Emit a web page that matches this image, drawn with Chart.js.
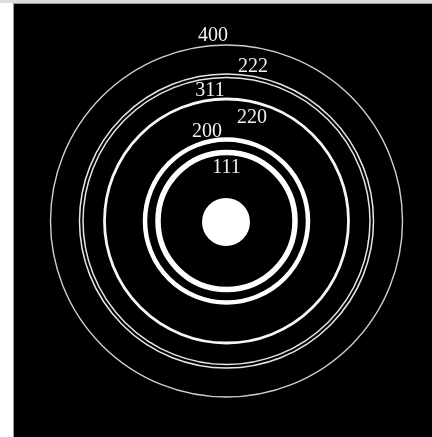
<!DOCTYPE html>
<html>
<head>
<meta charset="utf-8">
<script src="https://cdn.jsdelivr.net/npm/chart.js@4.4.1/dist/chart.umd.min.js"></script>
<style>
  html, body { margin: 0; padding: 0; background: #ffffff; }
  body { width: 432px; height: 437px; position: relative; overflow: hidden; }
  #topband { position: absolute; left: 0; top: 0; width: 432px; height: 3px; background: #dcdcdc; }
  #frame { position: absolute; left: 13px; top: 3px; width: 419px; height: 434px;
           border-left: 1px solid #9a9a9a; border-top: 1px solid #9a9a9a; box-sizing: border-box; background: #000; }
  canvas { display: block; }
</style>
</head>
<body>
<div id="topband"></div>
<div id="frame"><canvas id="c" width="418" height="433"></canvas></div>
<script>
// Miller indices of the diffraction rings, innermost first
const ringLabels = ['111', '200', '220', '311', '222', '400'];
// Ring radii (camera units, same units as the axes)
const ringRadius = [68.5, 81.5, 122, 143.5, 147, 176];
// Where each index label sits (axis units, origin at the direct beam)
const labelX = [0, -19.5, 25.5, -16.5, 26.5, -13.5];
const labelY = [54, 90, 104, 131, 155, 186];
// Transmitted (direct) beam spot
const beamSpot = [{ x: -0.5, y: -1 }];

// Ring appearance, innermost first
const ringStyle = [
  { color: '#ffffff', width: 5.5 },
  { color: '#ffffff', width: 4.5 },
  { color: '#f6f6f6', width: 2.8 },
  { color: '#e6e6e6', width: 1.5 },
  { color: '#e6e6e6', width: 1.5 },
  { color: '#cfcfcf', width: 1.4 }
];

const ringPoints = ringRadius.map(r => ({ x: 0, y: 0, r: r }));
const labelPoints = ringLabels.map((t, i) => ({ x: labelX[i], y: labelY[i], text: t }));

// Radius in pixels for a ring value, measured through the x scale
function ringPixels(chart, r) {
  const xs = chart.scales.x;
  return Math.abs(xs.getPixelForValue(r) - xs.getPixelForValue(0));
}

const blackBackground = {
  id: 'blackBackground',
  beforeDraw(chart) {
    const ctx = chart.ctx;
    ctx.save();
    ctx.fillStyle = '#000';
    ctx.fillRect(0, 0, chart.width, chart.height);
    ctx.restore();
  }
};

const indexLabels = {
  id: 'indexLabels',
  afterDatasetsDraw(chart) {
    const meta = chart.getDatasetMeta(2);
    const ctx = chart.ctx;
    ctx.save();
    ctx.fillStyle = '#f2f2f2';
    ctx.font = '20px "Liberation Serif", "DejaVu Serif", serif';
    ctx.textAlign = 'center';
    ctx.textBaseline = 'middle';
    meta.data.forEach((el, i) => {
      ctx.fillText(chart.data.datasets[2].data[i].text, el.x, el.y + 1);
    });
    ctx.restore();
  }
};

new Chart(document.getElementById('c'), {
  type: 'scatter',
  data: {
    datasets: [
      {
        label: 'rings',
        data: ringPoints,
        pointStyle: 'circle',
        pointRadius: ctx => ringPixels(ctx.chart, ctx.raw.r),
        pointHoverRadius: ctx => ringPixels(ctx.chart, ctx.raw.r),
        pointBackgroundColor: 'rgba(0,0,0,0)',
        pointBorderColor: ctx => ringStyle[ctx.dataIndex].color,
        pointBorderWidth: ctx => ringStyle[ctx.dataIndex].width,
        clip: false
      },
      {
        label: 'direct beam',
        data: beamSpot,
        pointStyle: 'circle',
        pointRadius: 24,
        pointBackgroundColor: '#ffffff',
        pointBorderColor: '#ffffff',
        pointBorderWidth: 0,
        clip: false
      },
      {
        label: 'indices',
        data: labelPoints,
        pointRadius: 0,
        clip: false
      }
    ]
  },
  options: {
    responsive: false,
    devicePixelRatio: 1,
    animation: false,
    events: [],
    layout: { padding: 0, autoPadding: false },
    scales: {
      x: { type: 'linear', min: -212.5, max: 205.5, display: false },
      y: { type: 'linear', min: -216, max: 217, display: false }
    },
    plugins: { legend: { display: false }, tooltip: { enabled: false } }
  },
  plugins: [blackBackground, indexLabels]
});
</script>
</body>
</html>
